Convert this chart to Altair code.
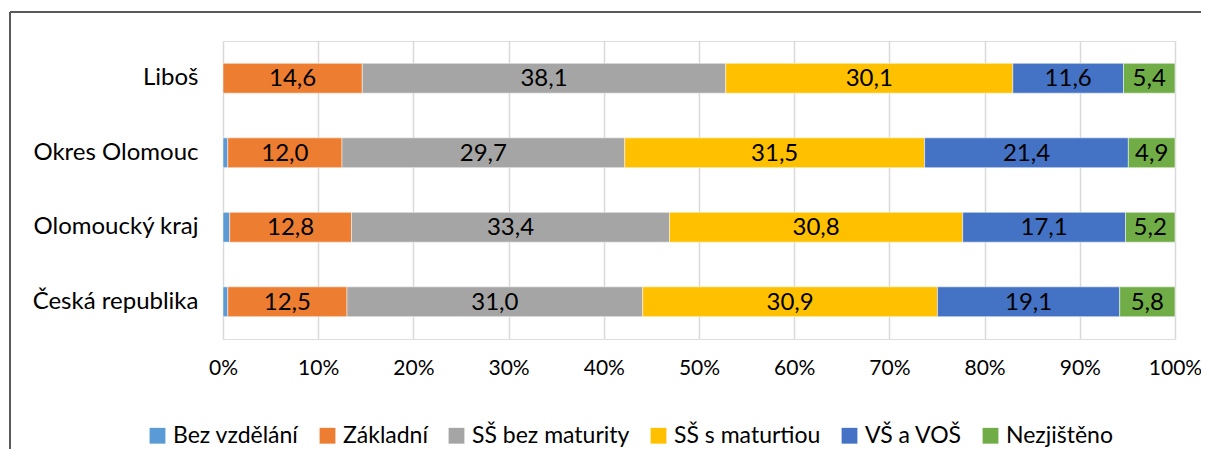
import altair as alt
import pandas as pd

cats = ["Liboš", "Okres Olomouc", "Olomoucký kraj", "Česká republika"]
levels = ["Bez vzdělání", "Základní", "SŠ bez maturity", "SŠ s maturtiou", "VŠ a VOŠ", "Nezjištěno"]
colors = ["#5B9BD5", "#ED7D31", "#A5A5A5", "#FFC000", "#4472C4", "#70AD47"]

bez = [0.0, 0.5, 0.7, 0.5]
zakl = [14.6, 12.0, 12.8, 12.5]
ss_bez = [38.1, 29.7, 33.4, 31.0]
ss_s = [30.1, 31.5, 30.8, 30.9]
vs = [11.6, 21.4, 17.1, 19.1]
nez = [5.4, 4.9, 5.2, 5.8]
tick_vals = [0, 0.1, 0.2, 0.3, 0.4, 0.5, 0.6, 0.7, 0.8, 0.9, 1.0]

series = [bez, zakl, ss_bez, ss_s, vs, nez]
rows = []
for li, (lvl, vals) in enumerate(zip(levels, series)):
    for c, v in zip(cats, vals):
        rows.append({"cat": c, "level": lvl, "order": li, "value": v})
df = pd.DataFrame(rows)

FONT = "Lato"
FS = 24

base = alt.Chart(df).transform_stack(
    stack="value", groupby=["cat"], as_=["x0", "x1"], offset="normalize",
    sort=[alt.SortField("order", order="ascending")]
)

ysc = alt.Scale(domain=cats, paddingInner=0.6, paddingOuter=0.3)

bars = base.mark_bar(stroke="white", strokeWidth=0.5).encode(
    y=alt.Y("cat:N", sort=cats, scale=ysc, title=None,
            axis=alt.Axis(ticks=False, domain=False, labelPadding=25,
                          labelFont=FONT, labelFontSize=FS, labelColor="#000000",
                          labelLimit=300)),
    x=alt.X("x0:Q", scale=alt.Scale(domain=[0, 1], nice=False), title=None,
            axis=alt.Axis(values=tick_vals, format=".0%", ticks=False, domain=False,
                          grid=True, gridColor="#D9D9D9", gridWidth=1.5,
                          labelFont=FONT, labelFontSize=21, labelColor="#000000",
                          labelPadding=18, labelFlush=False)),
    x2="x1:Q",
    color=alt.Color("level:N", sort=levels,
                    scale=alt.Scale(domain=levels, range=colors),
                    legend=alt.Legend(title=None, orient="none", direction="horizontal",
                                      legendX=-77, legendY=383,
                                      symbolType="square", symbolSize=250,
                                      symbolStrokeWidth=0, labelFont=FONT,
                                      labelFontSize=23, labelColor="#000000",
                                      columnPadding=17, labelLimit=300, symbolOffset=0)),
)

labels = base.transform_calculate(
    mid="(datum.x0 + datum.x1) / 2",
    lab="replace(format(datum.value, '.1f'), '.', ',')",
).transform_filter("datum.value >= 1").mark_text(
    font=FONT, fontSize=FS, color="#000000", baseline="middle", align="center", dy=1
).encode(
    y=alt.Y("cat:N", sort=cats, scale=ysc),
    x=alt.X("mid:Q"),
    text="lab:N",
)

dummy = alt.Chart(alt.Data(values=[{"a": 1}]))
frame_left = dummy.mark_rule(color="#595959", strokeWidth=2).encode(
    x=alt.value(-213), y=alt.value(-29), y2=alt.value(420))
frame_top = dummy.mark_rule(color="#595959", strokeWidth=2).encode(
    x=alt.value(-213), x2=alt.value(1000), y=alt.value(-29))

chart = alt.layer(bars, labels, frame_left, frame_top).properties(
    width=952, height=298,
    autosize=alt.AutoSizeParams(type="none"),
    padding={"left": 215, "top": 33, "right": 26, "bottom": 110},
).configure_view(stroke="#A6A6A6", strokeWidth=1.5).configure(background="white")

chart.save("out.html", embed_options={"renderer": "svg", "actions": False})
